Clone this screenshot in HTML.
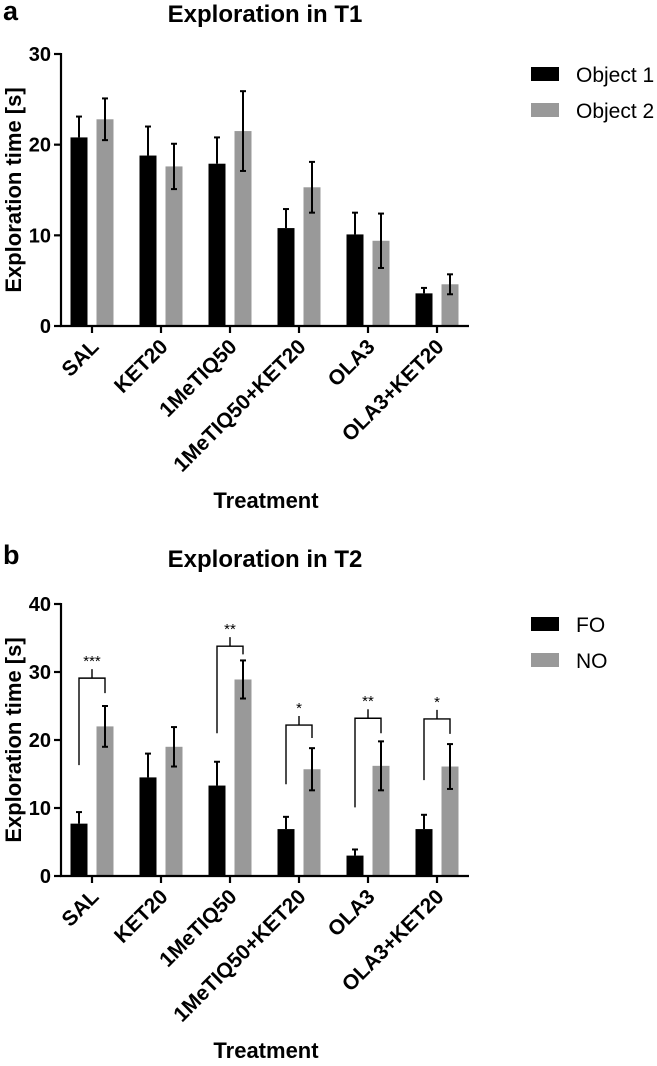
<!DOCTYPE html>
<html><head><meta charset="utf-8"><style>
html,body{margin:0;padding:0;background:#fff;}
svg text{font-family:"Liberation Sans",Arial,sans-serif;}
</style></head><body>
<svg id="chart" width="657" height="1061" viewBox="0 0 657 1061" xmlns="http://www.w3.org/2000/svg"></svg>
<script>
const categories = ["SAL","KET20","1MeTIQ50","1MeTIQ50+KET20","OLA3","OLA3+KET20"];
const t1Object1 = [20.8,18.8,17.9,10.8,10.1,3.6];
const t1Object1Err = [2.3,3.2,2.9,2.1,2.4,0.6];
const t1Object2 = [22.8,17.6,21.5,15.3,9.4,4.6];
const t1Object2Err = [2.3,2.5,4.4,2.8,3.0,1.1];
const t1Ticks = [0,10,20,30];
const t2FO = [7.7,14.5,13.3,6.9,3.0,6.9];
const t2FOErr = [1.7,3.5,3.5,1.8,0.9,2.1];
const t2NO = [22.0,19.0,28.9,15.7,16.2,16.1];
const t2NOErr = [3.0,2.9,2.8,3.1,3.6,3.3];
const t2Ticks = [0,10,20,30,40];
const sigGroups = [0,2,3,4,5];
const sigLeft = [16.3,21.0,13.5,10.1,14.1];
const sigTop = [29.1,33.8,22.2,23.2,23.1];
const sigRight = [26.9,32.6,20.3,21.0,20.9];
const sigLabels = ["***","**","*","**","*"];

const NS="http://www.w3.org/2000/svg";
const svg=document.getElementById('chart');
function mk(tag,attrs,parent,text){const e=document.createElementNS(NS,tag);for(const k in attrs)e.setAttribute(k,attrs[k]);if(text!==undefined)e.textContent=text;(parent||svg).appendChild(e);return e;}

function panel(o){
  const g=mk('g',{});
  
  
  const x0=61,x1=469,groupStart=92,groupStep=69;
  const y=v=>o.yBase-(v-0)*(o.yBase-o.yTop)/o.yMax;
  const xc=i=>groupStart+i*groupStep;
  const bw=17,off=13;
  const L=mk('text',{x:3,y:o.letterY,'font-size':27,'font-weight':'bold'},g,o.letter);
  
  
  const T=mk('text',{x:265,y:o.titleY,'font-size':24,'font-weight':'bold','text-anchor':'middle'},g,o.title);
  
  
  const ya=mk('line',{x1:x0,y1:y(o.yMax)-1,x2:x0,y2:o.yBase,stroke:'#000','stroke-width':2.2},g);
  
  
  o.ticks.forEach(t=>{
    mk('line',{x1:x0-7,y1:y(t),x2:x0,y2:y(t),stroke:'#000','stroke-width':2.2},g);
    const tl=mk('text',{x:x0-10,y:y(t)+7,'font-size':20,'font-weight':'bold','text-anchor':'end'},g,String(t));
    
    
  });
  const yt=mk('text',{x:0,y:0,'font-size':22,'font-weight':'bold','text-anchor':'middle',transform:`translate(21,${(o.yBase+y(o.yMax))/2}) rotate(-90)`},g,'Exploration time [s]');
  
  
  categories.forEach((c,i)=>{
    const s=[[o.s1,o.e1,'#000',-off,false],[o.s2,o.e2,'#999',off,true]];
    s.forEach(([vals,errs,col,dx,both],k)=>{
      const cx=xc(i)+dx,v=vals[i],e=errs[i];
      const b=mk('rect',{x:cx-bw/2,y:y(v),width:bw,height:o.yBase-y(v),fill:col},g);
      
      
      const lo=both?v-e:v;
      const eb=mk('line',{x1:cx,y1:y(v+e),x2:cx,y2:y(lo),stroke:'#000','stroke-width':2},g);
      
      
      mk('line',{x1:cx-3,y1:y(v+e),x2:cx+3,y2:y(v+e),stroke:'#000','stroke-width':2},g);
      if(both)mk('line',{x1:cx-3,y1:y(lo),x2:cx+3,y2:y(lo),stroke:'#000','stroke-width':2},g);
    });
    mk('line',{x1:xc(i),y1:o.yBase,x2:xc(i),y2:o.yBase+7,stroke:'#000','stroke-width':2.2},g);
    const cl=mk('text',{x:0,y:0,'font-size':21,'font-weight':'bold','text-anchor':'end',transform:`translate(${xc(i)+8},${o.yBase+22}) rotate(-45)`},g,c);
    
    
  });
  const xa=mk('line',{x1:x0-1,y1:o.yBase,x2:x1,y2:o.yBase,stroke:'#000','stroke-width':2.2},g);
  
  
  const xt=mk('text',{x:266,y:o.yBase+182,'font-size':22,'font-weight':'bold','text-anchor':'middle'},g,'Treatment');
  
  
  [[o.l1,'#000',o.legY],[o.l2,'#999',o.legY+36]].forEach(([lab,col,ly])=>{
    const r=mk('rect',{x:531,y:ly,width:28,height:14,fill:col},g);
    
    
    const t=mk('text',{x:576,y:ly+15,'font-size':21},g,lab);
    
    
  });
  if(o.sig){
    sigGroups.forEach((gi,k)=>{
      const xl=xc(gi)-off,xr=xc(gi)+off,xm=(xl+xr)/2,yt=y(sigTop[k]);
      const p=mk('path',{d:`M${xl},${y(sigLeft[k])}V${yt}H${xr}V${y(sigRight[k])}M${xm},${yt}V${yt-9}`,fill:'none',stroke:'#000','stroke-width':1.4},g);
      
      
      const s=mk('text',{x:xm,y:yt-12,'font-size':15,'text-anchor':'middle'},g,sigLabels[k]);
      
      
    });
  }
}
panel({name:'panel-a',letter:'a',letterY:20,title:'Exploration in T1',titleY:22,yBase:326,yTop:54,yMax:30,ticks:t1Ticks,
  s1:t1Object1,e1:t1Object1Err,s2:t1Object2,e2:t1Object2Err,n1:'object1',n2:'object2',l1:'Object 1',l2:'Object 2',legY:67,sig:false});
panel({name:'panel-b',letter:'b',letterY:564,title:'Exploration in T2',titleY:567,yBase:876,yTop:604,yMax:40,ticks:t2Ticks,
  s1:t2FO,e1:t2FOErr,s2:t2NO,e2:t2NOErr,n1:'fo',n2:'no',l1:'FO',l2:'NO',legY:617,sig:true});
</script>
</body></html>
